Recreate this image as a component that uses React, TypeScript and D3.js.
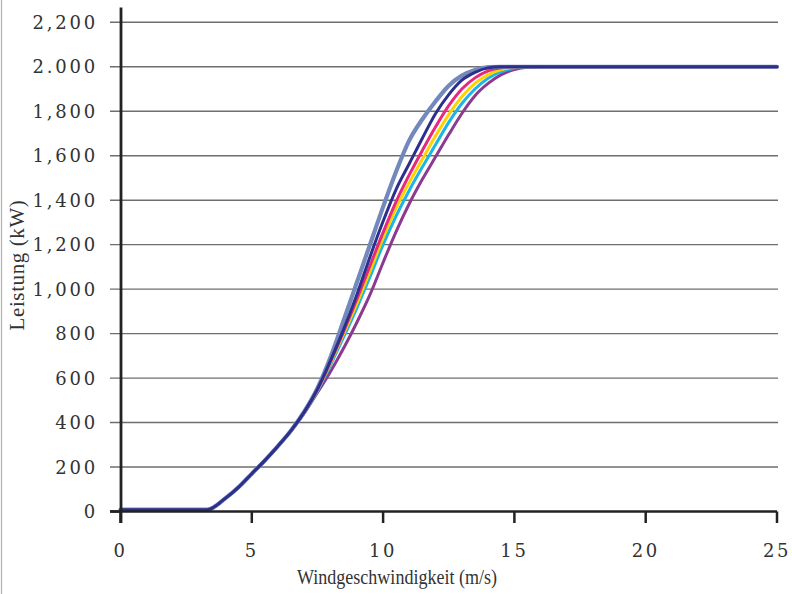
import React from "react";
import * as d3 from "d3";

const windSpeed = [0, 3.3, 4, 4.5, 5, 5.5, 6, 6.5, 7, 7.5, 8, 8.5, 9, 9.5, 10, 10.5, 11, 11.5, 12, 12.5, 13, 13.5, 14, 14.5, 15, 15.5, 16, 17, 20, 25];

const seriesLight = [8, 8, 60, 110, 170, 230, 295, 365, 450, 555, 695, 860, 1030, 1200, 1370, 1530, 1670, 1765, 1845, 1915, 1960, 1985, 1998, 2000, 2000, 2000, 2000, 2000, 2000, 2000];
const seriesNavy = [8, 8, 60, 110, 170, 230, 295, 365, 448, 550, 680, 820, 975, 1145, 1305, 1450, 1565, 1680, 1790, 1875, 1940, 1975, 1995, 2000, 2000, 2000, 2000, 2000, 2000, 2000];
const seriesMagenta = [8, 8, 60, 110, 170, 230, 295, 365, 447, 548, 675, 810, 955, 1105, 1255, 1395, 1515, 1625, 1730, 1825, 1900, 1950, 1982, 1996, 2000, 2000, 2000, 2000, 2000, 2000];
const seriesYellow = [8, 8, 60, 110, 170, 230, 295, 365, 446, 545, 670, 800, 935, 1080, 1230, 1365, 1480, 1585, 1690, 1785, 1865, 1925, 1965, 1988, 1998, 2000, 2000, 2000, 2000, 2000];
const seriesCyan = [8, 8, 60, 110, 170, 230, 295, 365, 445, 542, 660, 785, 915, 1055, 1200, 1330, 1445, 1550, 1650, 1750, 1835, 1900, 1948, 1978, 1994, 2000, 2000, 2000, 2000, 2000];
const seriesPurple = [8, 8, 60, 110, 170, 230, 295, 362, 442, 535, 630, 735, 850, 975, 1120, 1260, 1385, 1495, 1595, 1695, 1790, 1870, 1925, 1965, 1988, 1998, 2000, 2000, 2000, 2000];

const yTicks = [0, 200, 400, 600, 800, 1000, 1200, 1400, 1600, 1800, 2000, 2200];
const yTickLabels = ["0", "200", "400", "600", "800", "1,000", "1,200", "1,400", "1,600", "1,800", "2.000", "2,200"];
const xTicks = [0, 5, 10, 15, 20, 25];

const xTitle = "Windgeschwindigkeit (m/s)";
const yTitle = "Leistung (kW)";

const seriesList = [
  { values: seriesPurple, color: "#8b3a8f", width: 3 },
  { values: seriesCyan, color: "#1fb4e6", width: 3 },
  { values: seriesYellow, color: "#ffd200", width: 3 },
  { values: seriesMagenta, color: "#e5297f", width: 3 },
  { values: seriesLight, color: "#7489bb", width: 4.2 },
  { values: seriesNavy, color: "#2c2f8b", width: 3 },
];

export default function App() {
  const x = d3.scaleLinear().domain([0, 25]).range([120.5, 777]);
  const y = d3.scaleLinear().domain([0, 2200]).range([511.5, 22.3]);
  const line = d3
    .line<number>()
    .x((_, i) => x(windSpeed[i]))
    .y((v) => y(v))
    .curve(d3.curveMonotoneX);
  const tickFont = "'DejaVu Serif', serif";
  const labelFont = "'Liberation Serif', serif";
  return (
    <svg width={792} height={594} style={{ position: "absolute", left: 0, top: 0, background: "#fff" }}>
      <rect x={0} y={0} width={792} height={594} fill="#fff" />
      <line x1={1.5} x2={1.5} y1={0} y2={594} stroke="#b0b0b0" strokeWidth={1.2} />
      {yTicks.map((t, i) => (
        <g key={t}>
          <line x1={110} x2={t === 0 ? 121 : 778} y1={y(t)} y2={y(t)} stroke={t === 0 ? "#222" : "#6e6e6e"} strokeWidth={t === 0 ? 2.5 : 1.4} />
          <text x={98} y={y(t)} dy="0.36em" textAnchor="end" fontFamily={tickFont} fontSize={18} letterSpacing={2.8} fill="#333">
            {yTickLabels[i]}
          </text>
        </g>
      ))}
      {seriesList.map((s, i) => (
        <path key={i} d={line(s.values) || ""} fill="none" stroke={s.color} strokeWidth={s.width} strokeLinejoin="round" strokeLinecap="round" />
      ))}
      <line x1={110} x2={777} y1={511.5} y2={511.5} stroke="#222" strokeWidth={2.5} />
      <line x1={121} x2={121} y1={7.5} y2={523} stroke="#222" strokeWidth={2.8} />
      {xTicks.map((t) => (
        <g key={t}>
          <line x1={x(t)} x2={x(t)} y1={511.5} y2={523} stroke="#222" strokeWidth={2.5} />
          <text x={x(t)} y={557} textAnchor="middle" fontFamily={tickFont} fontSize={18} letterSpacing={2.6} fill="#333">
            {t}
          </text>
        </g>
      ))}
      <text x={297} y={584} fontFamily={labelFont} fontSize={21} textLength={200} lengthAdjust="spacingAndGlyphs" fill="#333">
        {xTitle}
      </text>
      <text transform="translate(24,265) rotate(-90)" textAnchor="middle" fontFamily={labelFont} fontSize={21} letterSpacing={0.6} fill="#333">
        {yTitle}
      </text>
    </svg>
  );
}
